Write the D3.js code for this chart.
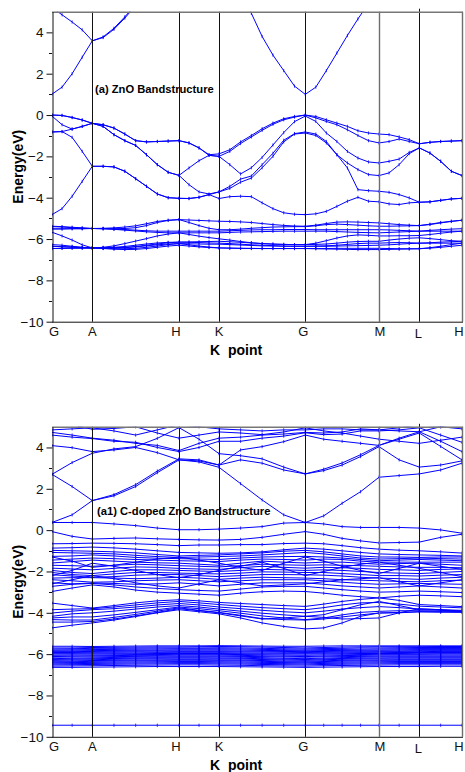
<!DOCTYPE html>
<html>
<head>
<meta charset="utf-8">
<script src="https://cdn.jsdelivr.net/npm/d3@7"></script>
<style>
  body { margin: 0; background: #fff; }
  svg { display: block; font-family: Arial, "Liberation Sans", sans-serif; }
</style>
</head>
<body>
<svg id="chart" width="465" height="772"></svg>
<script>
// k-path: high symmetry points and their positions along the path
const kLabels = ["G", "A", "H", "K", "G", "M", "L", "H"];
const kNodes = [0, 0.403, 1.27, 1.67, 2.533, 3.27, 3.673, 4.10];
// number of k-steps in each segment (top: pure ZnO, bottom: supercell)
const topSteps = [4, 8, 4, 8, 7, 4, 4];
const botSteps = [2, 4, 2, 4, 4, 2, 2];

// ---- (a) ZnO bands, 40 k-points:  G-A | A-H | H-K | K-G | G-M | M-L | L-H
const zno_cb1 = [1.01,1.35,2.0,2.8,3.59, 3.75,4.15,4.69,5.3,5.7,6.0,6.2,6.3, 6.4,6.6,6.8,7.0, 6.6,5.9,4.92,3.8,2.9,2.15,1.40,1.0, 1.35,2.15,3.0,3.85,4.65,5.4,6.0, 6.0,6.0,6.0,6.0, 6.1,6.2,6.3,6.3];
const zno_cb2 = [5.2,4.85,4.5,4.12,3.59, 3.78,4.2,4.75,5.35,5.75,6.05,6.25,6.35, 6.5,6.7,6.9,7.1, 7.0,6.8,6.5,6.2,5.9,5.6,5.4,5.2, 5.3,5.5,5.8,6.1,6.4,6.6,6.8, 6.8,6.8,6.8,6.8, 6.8,6.7,6.6,6.5];
const zno_vb6 = [0.0,-0.02,-0.12,-0.24,-0.40, -0.47,-0.63,-0.92,-1.24,-1.30,-1.28,-1.26,-1.24, -1.35,-1.59,-1.92,-1.88, -1.68,-1.30,-0.99,-0.66,-0.39,-0.18,-0.07,0.0, -0.07,-0.23,-0.39,-0.55,-0.76,-0.87,-0.92, -0.95,-1.06,-1.19,-1.39, -1.32,-1.28,-1.26,-1.24];
const zno_vb5 = [0.0,-0.02,-0.12,-0.24,-0.40, -0.47,-0.63,-0.92,-1.24,-1.30,-1.28,-1.26,-1.24, -1.35,-1.59,-1.95,-2.0, -1.76,-1.38,-1.06,-0.74,-0.45,-0.23,-0.10,0.0, -0.14,-0.31,-0.47,-0.71,-0.99,-1.24,-1.35, -1.28,-1.16,-1.28,-1.39, -1.32,-1.28,-1.26,-1.24];
const zno_vb4 = [-0.05,-0.47,-0.68,-0.55,-0.40, -0.55,-0.95,-1.24,-1.47,-1.92,-2.40,-2.77,-2.92, -2.56,-2.21,-1.95,-2.0, -2.40,-2.85,-2.55,-2.05,-1.45,-0.85,-0.32,-0.05, -0.31,-0.87,-1.28,-1.76,-2.08,-2.27,-2.32, -2.24,-2.13,-1.81,-1.59, -1.84,-2.24,-2.72,-2.93];
const zno_vb3 = [-0.82,-0.80,-0.68,-0.55,-0.40, -0.55,-0.95,-1.24,-1.47,-1.92,-2.40,-2.77,-2.92, -3.37,-3.72,-3.82,-3.72, -3.45,-3.10,-2.95,-2.40,-1.85,-1.22,-0.90,-0.82, -0.92,-1.28,-1.92,-2.32,-2.64,-2.88,-2.93, -2.80,-2.40,-1.87,-1.59, -1.84,-2.24,-2.72,-2.93];
const zno_vb2 = [-0.82,-0.80,-1.08,-1.76,-2.48, -2.48,-2.51,-2.72,-3.08,-3.45,-3.82,-4.00,-4.03, -4.04,-3.98,-3.85,-3.72, -3.55,-3.25,-3.05,-2.55,-2.0,-1.30,-0.92,-0.87, -0.99,-1.35,-1.92,-2.56,-3.61,-3.66,-3.69, -3.74,-3.85,-4.01,-4.22, -4.20,-4.13,-4.06,-4.03];
const zno_vb1 = [-4.82,-4.53,-3.93,-3.21,-2.48, -2.48,-2.51,-2.72,-3.08,-3.45,-3.82,-4.00,-4.03, -4.04,-3.98,-3.85,-4.04, -3.95,-3.93,-3.95,-4.25,-4.53,-4.73,-4.80,-4.82, -4.78,-4.66,-4.42,-4.17,-3.98,-4.17,-4.20, -4.30,-4.33,-4.25,-4.22, -4.20,-4.13,-4.06,-4.03];
// Zn 3d bands
const zno_d10 = [-5.38,-5.40,-5.43,-5.46,-5.49, -5.48,-5.46,-5.42,-5.36,-5.26,-5.15,-5.09,-5.06, -5.08,-5.10,-5.12,-5.14, -5.15,-5.17,-5.20,-5.25,-5.30,-5.34,-5.37,-5.38, -5.33,-5.25,-5.18,-5.17,-5.18,-5.20,-5.22, -5.26,-5.30,-5.33,-5.35, -5.28,-5.20,-5.14,-5.09];
const zno_d9 = [-5.40,-5.42,-5.45,-5.47,-5.49, -5.50,-5.50,-5.49,-5.45,-5.35,-5.20,-5.10,-5.06, -5.20,-5.35,-5.48,-5.55, -5.55,-5.52,-5.48,-5.45,-5.42,-5.41,-5.40,-5.40, -5.36,-5.30,-5.28,-5.30,-5.33,-5.36,-5.38, -5.38,-5.37,-5.36,-5.35, -5.30,-5.22,-5.15,-5.09];
const zno_d8 = [-5.51,-5.51,-5.50,-5.50,-5.49, -5.50,-5.52,-5.54,-5.57,-5.60,-5.62,-5.62,-5.62, -5.62,-5.62,-5.62,-5.62, -5.60,-5.58,-5.56,-5.55,-5.55,-5.54,-5.54,-5.54, -5.55,-5.55,-5.55,-5.55,-5.55,-5.55,-5.55, -5.56,-5.58,-5.60,-5.62, -5.58,-5.55,-5.52,-5.50];
const zno_d7 = [-5.51,-5.51,-5.50,-5.50,-5.49, -5.50,-5.53,-5.57,-5.61,-5.65,-5.68,-5.70,-5.70, -5.70,-5.70,-5.70,-5.70, -5.68,-5.66,-5.65,-5.64,-5.63,-5.62,-5.62,-5.62, -5.62,-5.62,-5.64,-5.66,-5.68,-5.69,-5.70, -5.68,-5.66,-5.64,-5.62, -5.62,-5.62,-5.62,-5.62];
const zno_d6 = [-5.67,-5.85,-6.05,-6.28,-6.43, -6.40,-6.33,-6.22,-6.10,-5.98,-5.85,-5.76,-5.70, -5.78,-5.86,-5.93,-5.99, -6.05,-6.12,-6.18,-6.22,-6.25,-6.26,-6.27,-6.27, -6.20,-6.08,-5.95,-5.85,-5.80,-5.82,-5.85, -5.85,-5.84,-5.84,-5.83, -5.78,-5.72,-5.66,-5.62];
const zno_d5 = [-6.27,-6.30,-6.35,-6.40,-6.43, -6.42,-6.40,-6.36,-6.30,-6.24,-6.19,-6.16,-6.15, -6.14,-6.13,-6.12,-6.11, -6.13,-6.16,-6.19,-6.22,-6.24,-6.26,-6.27,-6.27, -6.26,-6.24,-6.20,-6.15,-6.12,-6.11,-6.11, -6.05,-6.00,-5.96,-5.94, -5.98,-6.03,-6.08,-6.11];
const zno_d4 = [-6.35,-6.37,-6.39,-6.41,-6.43, -6.43,-6.42,-6.40,-6.36,-6.30,-6.24,-6.18,-6.15, -6.16,-6.17,-6.19,-6.20, -6.22,-6.25,-6.28,-6.30,-6.32,-6.34,-6.35,-6.35, -6.34,-6.33,-6.30,-6.26,-6.22,-6.20,-6.20, -6.18,-6.17,-6.18,-6.20, -6.18,-6.15,-6.13,-6.11];
const zno_d3 = [-6.35,-6.37,-6.39,-6.41,-6.43, -6.44,-6.44,-6.42,-6.38,-6.33,-6.28,-6.24,-6.22, -6.23,-6.24,-6.25,-6.25, -6.27,-6.29,-6.31,-6.33,-6.34,-6.35,-6.35,-6.35, -6.35,-6.35,-6.34,-6.33,-6.32,-6.31,-6.30, -6.28,-6.25,-6.22,-6.20, -6.20,-6.20,-6.20,-6.20];
const zno_d2 = [-6.46,-6.45,-6.44,-6.44,-6.43, -6.45,-6.47,-6.47,-6.45,-6.40,-6.34,-6.27,-6.22, -6.28,-6.34,-6.39,-6.43, -6.44,-6.45,-6.45,-6.46,-6.46,-6.46,-6.46,-6.46, -6.46,-6.46,-6.45,-6.45,-6.45,-6.45,-6.45, -6.46,-6.47,-6.47,-6.47, -6.42,-6.35,-6.27,-6.20];
const zno_d1 = [-6.46,-6.45,-6.44,-6.44,-6.43, -6.46,-6.49,-6.51,-6.50,-6.46,-6.40,-6.34,-6.30, -6.34,-6.38,-6.41,-6.43, -6.44,-6.45,-6.46,-6.46,-6.46,-6.46,-6.46,-6.46, -6.47,-6.48,-6.49,-6.50,-6.51,-6.51,-6.51, -6.50,-6.49,-6.48,-6.47, -6.44,-6.40,-6.35,-6.30];

// ---- (a1) C-doped ZnO bands, 21 k-points: G . A . . . H . K . . . G . . . M . L . H
const cz_cb = [
  [0.37,0.74,1.43,1.66,2.11,2.78,3.40,3.30,3.04,2.25,1.46,0.74,0.37,0.69,1.30,1.86,2.56,2.64,2.72,2.91,3.24],
  [2.70,2.11,1.43,1.72,2.20,2.86,3.45,3.40,3.15,3.40,3.24,2.91,2.72,2.88,3.15,3.56,4.04,3.40,3.05,3.15,3.35],
  [2.70,3.27,3.72,3.93,4.04,4.44,4.96,4.40,3.70,3.60,3.45,3.05,2.72,2.95,3.25,3.65,4.10,4.45,4.76,4.30,3.80],
  [4.09,3.99,3.80,3.88,4.00,3.75,3.40,3.35,3.15,3.88,4.04,4.28,4.60,4.40,4.30,4.20,4.10,4.40,4.70,4.05,3.40],
  [4.60,4.50,4.43,4.30,4.25,4.00,3.80,4.00,4.30,4.30,4.45,4.55,4.71,4.62,4.65,4.80,4.80,4.85,4.95,4.60,4.25],
  [4.73,4.60,4.45,4.35,4.20,4.10,3.85,4.20,4.45,4.50,4.60,4.65,4.73,4.70,4.75,4.90,4.85,4.95,5.10,5.00,4.90],
  [4.85,4.90,4.95,4.80,4.60,4.85,5.10,5.00,4.90,4.85,4.80,4.85,4.85,4.90,4.90,4.85,4.85,4.80,4.76,5.00,5.20],
  [5.30,5.10,4.88,4.92,5.00,4.70,4.45,4.60,4.75,4.70,4.62,4.75,4.95,4.80,4.70,4.55,4.40,4.30,4.20,4.35,4.50]
];
const cz_gap = [
  [0.37,0.37,0.37,0.30,0.22,0.10,0.02,0.02,0.05,0.10,0.17,0.34,0.37,0.30,0.17,0.13,0.13,0.13,0.10,0.01,-0.15],
  [-0.07,-0.30,-0.43,-0.40,-0.38,-0.42,-0.45,-0.47,-0.48,-0.45,-0.35,-0.20,-0.07,-0.20,-0.40,-0.52,-0.62,-0.60,-0.58,-0.35,-0.20]
];
const cz_vb = [
  [-0.66,-0.65,-0.63,-0.64,-0.66,-0.70,-0.75,-0.72,-0.72,-0.70,-0.70,-0.65,-0.63,-0.66,-0.75,-0.85,-0.92,-0.97,-1.00,-1.05,-1.11],
  [-0.87,-0.85,-0.82,-0.86,-0.92,-1.00,-1.08,-1.10,-1.12,-1.10,-1.05,-0.95,-0.87,-0.92,-1.00,-1.08,-1.15,-1.18,-1.20,-1.22,-1.25],
  [-0.98,-1.00,-1.02,-1.05,-1.10,-1.18,-1.25,-1.22,-1.20,-1.15,-1.10,-1.02,-0.98,-1.05,-1.15,-1.25,-1.30,-1.30,-1.32,-1.30,-1.30],
  [-1.08,-1.10,-1.12,-1.15,-1.22,-1.28,-1.32,-1.30,-1.28,-1.25,-1.20,-1.14,-1.08,-1.15,-1.25,-1.35,-1.40,-1.38,-1.35,-1.38,-1.40],
  [-1.27,-1.25,-1.20,-1.25,-1.32,-1.36,-1.38,-1.40,-1.42,-1.35,-1.30,-1.28,-1.27,-1.30,-1.35,-1.42,-1.48,-1.45,-1.42,-1.45,-1.48],
  [-1.45,-1.40,-1.35,-1.38,-1.42,-1.45,-1.48,-1.50,-1.52,-1.45,-1.40,-1.42,-1.45,-1.40,-1.42,-1.50,-1.55,-1.55,-1.55,-1.55,-1.55],
  [-1.59,-1.52,-1.45,-1.50,-1.55,-1.58,-1.60,-1.65,-1.70,-1.60,-1.50,-1.55,-1.59,-1.55,-1.55,-1.60,-1.65,-1.62,-1.60,-1.65,-1.70],
  [-1.70,-1.72,-1.75,-1.70,-1.65,-1.68,-1.72,-1.75,-1.78,-1.72,-1.65,-1.68,-1.70,-1.68,-1.70,-1.72,-1.75,-1.78,-1.80,-1.80,-1.82],
  [-1.84,-1.88,-1.92,-1.85,-1.78,-1.80,-1.85,-1.88,-1.90,-1.82,-1.75,-1.80,-1.84,-1.80,-1.82,-1.85,-1.90,-1.92,-1.95,-1.90,-1.88],
  [-1.95,-2.05,-2.10,-2.00,-1.92,-1.92,-1.95,-1.98,-2.00,-1.95,-1.90,-1.92,-1.95,-1.92,-1.95,-2.00,-2.05,-2.08,-2.10,-2.05,-2.00],
  [-2.05,-2.15,-2.20,-2.12,-2.05,-2.05,-2.08,-2.10,-2.12,-2.08,-2.02,-2.03,-2.05,-2.05,-2.10,-2.15,-2.20,-2.20,-2.22,-2.18,-2.15],
  [-2.16,-2.22,-2.28,-2.25,-2.18,-2.15,-2.15,-2.20,-2.25,-2.20,-2.15,-2.15,-2.16,-2.18,-2.22,-2.28,-2.32,-2.35,-2.38,-2.32,-2.28],
  [-2.32,-2.30,-2.30,-2.32,-2.35,-2.32,-2.28,-2.32,-2.38,-2.32,-2.28,-2.30,-2.32,-2.35,-2.40,-2.42,-2.45,-2.48,-2.50,-2.45,-2.42],
  [-2.40,-2.45,-2.52,-2.50,-2.45,-2.42,-2.40,-2.45,-2.50,-2.45,-2.40,-2.40,-2.40,-2.45,-2.52,-2.58,-2.62,-2.60,-2.58,-2.60,-2.62],
  [-2.55,-2.60,-2.56,-2.58,-2.62,-2.60,-2.55,-2.62,-2.70,-2.62,-2.55,-2.55,-2.55,-2.62,-2.70,-2.75,-2.80,-2.75,-2.70,-2.75,-2.80],
  [-2.72,-2.62,-2.58,-2.65,-2.75,-2.82,-2.88,-2.92,-2.95,-2.85,-2.75,-2.72,-2.72,-2.80,-2.88,-2.95,-3.00,-2.98,-2.95,-2.98,-3.02],
  [-2.97,-2.80,-2.65,-2.75,-2.90,-3.00,-3.05,-3.10,-3.15,-3.05,-2.98,-2.95,-2.97,-3.05,-3.15,-3.22,-3.28,-3.20,-3.15,-3.18,-3.22],
  [-1.30,-1.50,-1.80,-1.70,-1.55,-1.40,-1.30,-1.45,-1.60,-1.80,-1.95,-1.60,-1.30,-1.50,-1.75,-1.95,-2.10,-1.85,-1.60,-1.75,-1.90],
  [-2.20,-1.95,-1.60,-1.75,-1.95,-2.15,-2.30,-2.15,-1.95,-1.75,-1.55,-1.85,-2.20,-2.00,-1.80,-1.65,-1.55,-1.70,-1.85,-2.05,-2.25],
  [-2.60,-2.40,-2.20,-2.35,-2.55,-2.70,-2.80,-2.60,-2.40,-2.55,-2.70,-2.65,-2.60,-2.50,-2.40,-2.35,-2.30,-2.50,-2.70,-2.55,-2.40],
  [-3.53,-3.65,-3.77,-3.65,-3.52,-3.42,-3.37,-3.42,-3.50,-3.55,-3.60,-3.65,-3.69,-3.58,-3.45,-3.35,-3.28,-3.40,-3.60,-3.65,-3.70],
  [-3.85,-3.82,-3.80,-3.72,-3.62,-3.52,-3.45,-3.52,-3.60,-3.68,-3.75,-3.80,-3.85,-3.75,-3.62,-3.52,-3.50,-3.58,-3.68,-3.72,-3.76],
  [-4.01,-3.92,-3.85,-3.80,-3.72,-3.62,-3.55,-3.62,-3.72,-3.80,-3.88,-3.95,-4.00,-3.92,-3.82,-3.75,-3.70,-3.75,-3.82,-3.85,-3.88],
  [-4.17,-4.05,-4.00,-3.92,-3.82,-3.72,-3.65,-3.72,-3.82,-3.92,-4.02,-4.10,-4.17,-4.09,-3.85,-3.61,-3.45,-3.65,-3.85,-3.88,-3.92],
  [-4.25,-4.20,-4.20,-4.10,-3.98,-3.85,-3.72,-3.80,-3.90,-4.02,-4.15,-4.25,-4.33,-4.25,-4.10,-3.98,-3.93,-3.90,-3.90,-3.92,-3.93],
  [-4.33,-4.35,-4.35,-4.22,-4.08,-3.92,-3.76,-3.88,-3.98,-4.12,-4.28,-4.33,-4.35,-4.30,-4.20,-4.10,-4.01,-4.00,-3.95,-3.95,-3.95],
  [-4.73,-4.60,-4.49,-4.35,-4.18,-4.00,-3.85,-3.95,-4.05,-4.25,-4.49,-4.66,-4.78,-4.73,-4.49,-4.17,-4.01,-3.98,-3.95,-3.97,-3.98],
  [-4.45,-4.45,-4.42,-4.30,-4.15,-3.98,-3.80,-3.90,-4.00,-4.15,-4.30,-4.25,-4.17,-4.22,-4.30,-4.28,-4.25,-4.00,-3.80,-3.85,-3.92]
];
const cz_d = [
  [-5.62,-5.62,-5.63,-5.62,-5.61,-5.60,-5.60,-5.60,-5.59,-5.60,-5.61,-5.62,-5.62,-5.61,-5.60,-5.60,-5.60,-5.60,-5.60,-5.60,-5.60],
  [-5.70,-5.70,-5.68,-5.67,-5.66,-5.65,-5.65,-5.64,-5.63,-5.64,-5.66,-5.68,-5.70,-5.68,-5.66,-5.65,-5.64,-5.64,-5.64,-5.63,-5.63],
  [-5.75,-5.74,-5.72,-5.72,-5.71,-5.70,-5.70,-5.70,-5.69,-5.70,-5.72,-5.74,-5.75,-5.73,-5.72,-5.70,-5.70,-5.69,-5.68,-5.68,-5.68],
  [-5.80,-5.79,-5.78,-5.77,-5.76,-5.75,-5.74,-5.74,-5.74,-5.75,-5.77,-5.79,-5.80,-5.78,-5.77,-5.76,-5.75,-5.74,-5.73,-5.73,-5.73],
  [-5.84,-5.84,-5.83,-5.82,-5.81,-5.80,-5.79,-5.79,-5.79,-5.80,-5.82,-5.83,-5.84,-5.83,-5.82,-5.81,-5.80,-5.79,-5.78,-5.78,-5.78],
  [-5.88,-5.88,-5.87,-5.86,-5.85,-5.84,-5.84,-5.84,-5.84,-5.85,-5.86,-5.87,-5.88,-5.87,-5.86,-5.85,-5.84,-5.84,-5.83,-5.83,-5.83],
  [-5.92,-5.92,-5.91,-5.90,-5.89,-5.89,-5.88,-5.88,-5.88,-5.89,-5.90,-5.91,-5.92,-5.91,-5.90,-5.89,-5.88,-5.88,-5.88,-5.87,-5.87],
  [-5.96,-5.96,-5.95,-5.94,-5.94,-5.93,-5.93,-5.93,-5.93,-5.94,-5.95,-5.96,-5.96,-5.95,-5.94,-5.93,-5.93,-5.92,-5.92,-5.92,-5.92],
  [-6.00,-6.00,-5.99,-5.98,-5.98,-5.97,-5.97,-5.97,-5.97,-5.98,-5.99,-6.00,-6.00,-5.99,-5.98,-5.97,-5.97,-5.97,-5.96,-5.96,-5.96],
  [-6.06,-6.05,-6.04,-6.03,-6.02,-6.02,-6.01,-6.01,-6.01,-6.02,-6.03,-6.05,-6.06,-6.04,-6.03,-6.02,-6.01,-6.01,-6.01,-6.00,-6.00],
  [-6.12,-6.10,-6.08,-6.07,-6.06,-6.06,-6.05,-6.05,-6.05,-6.06,-6.08,-6.10,-6.12,-6.09,-6.07,-6.06,-6.05,-6.05,-6.05,-6.05,-6.05],
  [-6.15,-6.14,-6.13,-6.12,-6.11,-6.10,-6.10,-6.10,-6.10,-6.11,-6.12,-6.14,-6.15,-6.13,-6.12,-6.11,-6.10,-6.10,-6.10,-6.10,-6.10],
  [-6.22,-6.20,-6.18,-6.16,-6.15,-6.15,-6.14,-6.14,-6.14,-6.15,-6.17,-6.20,-6.22,-6.19,-6.17,-6.15,-6.14,-6.14,-6.14,-6.14,-6.14],
  [-6.26,-6.24,-6.22,-6.21,-6.20,-6.19,-6.18,-6.18,-6.19,-6.20,-6.22,-6.24,-6.26,-6.23,-6.21,-6.20,-6.19,-6.18,-6.18,-6.18,-6.18],
  [-6.30,-6.28,-6.27,-6.25,-6.24,-6.23,-6.23,-6.23,-6.23,-6.24,-6.26,-6.28,-6.30,-6.27,-6.25,-6.24,-6.23,-6.23,-6.23,-6.23,-6.23],
  [-6.34,-6.33,-6.31,-6.30,-6.29,-6.28,-6.27,-6.27,-6.28,-6.29,-6.31,-6.33,-6.34,-6.32,-6.30,-6.29,-6.28,-6.27,-6.27,-6.27,-6.27],
  [-6.38,-6.37,-6.35,-6.34,-6.33,-6.32,-6.32,-6.32,-6.32,-6.33,-6.35,-6.37,-6.38,-6.36,-6.34,-6.33,-6.32,-6.32,-6.32,-6.32,-6.32],
  [-6.42,-6.41,-6.40,-6.39,-6.38,-6.37,-6.36,-6.36,-6.37,-6.38,-6.40,-6.41,-6.42,-6.40,-6.39,-6.38,-6.37,-6.36,-6.36,-6.36,-6.36],
  [-6.47,-6.46,-6.45,-6.44,-6.43,-6.42,-6.41,-6.41,-6.42,-6.43,-6.45,-6.46,-6.47,-6.45,-6.44,-6.43,-6.42,-6.41,-6.41,-6.41,-6.41],
  [-6.52,-6.51,-6.50,-6.49,-6.48,-6.47,-6.46,-6.46,-6.47,-6.48,-6.50,-6.51,-6.52,-6.50,-6.49,-6.48,-6.47,-6.46,-6.46,-6.46,-6.46],
  [-6.58,-6.57,-6.56,-6.55,-6.54,-6.53,-6.52,-6.52,-6.53,-6.54,-6.56,-6.57,-6.58,-6.56,-6.55,-6.54,-6.53,-6.52,-6.52,-6.52,-6.52],
  [-6.64,-6.64,-6.63,-6.62,-6.61,-6.60,-6.60,-6.60,-6.60,-6.61,-6.62,-6.63,-6.64,-6.63,-6.62,-6.61,-6.60,-6.60,-6.60,-6.59,-6.59]
];
const cz_deep = [
  [-9.44,-9.44,-9.44,-9.44,-9.44,-9.44,-9.44,-9.44,-9.44,-9.44,-9.44,-9.44,-9.44,-9.44,-9.44,-9.44,-9.44,-9.44,-9.44,-9.44,-9.44]
];

const yTicks = [-10, -8, -6, -4, -2, 0, 2, 4];
const yMinor = [-9, -7, -5, -3, -1, 1, 3];

const topBands = [zno_cb1, zno_cb2, zno_vb6, zno_vb5, zno_vb4, zno_vb3, zno_vb2, zno_vb1,
  zno_d10, zno_d9, zno_d8, zno_d7, zno_d6, zno_d5, zno_d4, zno_d3, zno_d2, zno_d1];
const botBands = [...cz_cb, ...cz_gap, ...cz_vb, ...cz_d, ...cz_deep];

const svg = d3.select("#chart");
const blue = "#0000ff";

// k grid along the path from the node positions and step counts
function kGrid(steps) {
  const ks = [];
  steps.forEach((n, i) => {
    for (let j = 0; j < n; j++) ks.push(kNodes[i] + (kNodes[i + 1] - kNodes[i]) * j / n);
  });
  ks.push(kNodes[kNodes.length - 1]);
  return ks;
}

function drawPanel(id, top, bands, steps, title, titleX, titleY) {
  const left = 52, right = 462, bottom = top + 310;
  const ks = kGrid(steps);

  const x = d3.scaleLinear().domain([0, 4.10]).range([left, right]);
  const y = d3.scaleLinear().domain([-10, 5]).range([bottom, top]);

  const g = svg.append("g");

  g.append("clipPath").attr("id", id)
    .append("rect").attr("x", left).attr("y", top).attr("width", right - left).attr("height", bottom - top);

  // bands
  const line = d3.line().x((d, i) => x(ks[i])).y(d => y(d));
  const bandG = g.append("g").attr("clip-path", `url(#${id})`);
  bandG.selectAll("path.band")
    .data(bands)
    .enter()
    .append("path")
    .attr("class", "band")
    .attr("d", line)
    .attr("fill", "none")
    .attr("stroke", blue)
    .attr("stroke-width", 1);

  // small markers at every k-point
  bandG.selectAll("g.marks")
    .data(bands)
    .enter()
    .append("g")
    .selectAll("line")
    .data(d => d.map((v, i) => [ks[i], v]))
    .enter()
    .append("line")
    .attr("x1", d => x(d[0])).attr("x2", d => x(d[0]))
    .attr("y1", d => y(d[1]) - 1.6).attr("y2", d => y(d[1]) + 1.6)
    .attr("stroke", blue)
    .attr("stroke-width", 0.8);

  // vertical lines at the high symmetry points
  kNodes.forEach((k, i) => {
    if (i === 0) return;
    const xx = Math.round(x(k)) + 0.5;
    const isGray = (kLabels[i] === "M" || i === kNodes.length - 1);
    g.append("line")
      .attr("x1", xx).attr("x2", xx)
      .attr("y1", kLabels[i] === "L" ? top - 3 : top).attr("y2", bottom)
      .attr("stroke", isGray ? "#6e6e6e" : "#111")
      .attr("stroke-width", isGray ? 1.4 : 1);
  });

  // top border
  g.append("line")
    .attr("x1", left).attr("x2", right + 1)
    .attr("y1", top + 0.5).attr("y2", top + 0.5)
    .attr("stroke", "#777").attr("stroke-width", 1.4);

  // bottom axis line
  g.append("line")
    .attr("x1", left).attr("x2", right + 1)
    .attr("y1", bottom + 0.5).attr("y2", bottom + 0.5)
    .attr("stroke", "#111").attr("stroke-width", 1);

  // left axis
  const yAxis = d3.axisLeft(y).tickValues(yTicks).tickSize(6).tickSizeOuter(0).tickPadding(3);
  const ax = g.append("g").attr("transform", `translate(${left + 0.5},0)`).call(yAxis);
  ax.select(".domain").attr("stroke", "#111");
  ax.selectAll(".tick line").attr("stroke", "#111");
  ax.selectAll(".tick text").attr("font-size", 13.5).attr("fill", "#111")
    .attr("font-family", "Arial, 'Liberation Sans', sans-serif");
  g.append("g").selectAll("line")
    .data(yMinor).enter().append("line")
    .attr("x1", left - 3).attr("x2", left)
    .attr("y1", d => Math.round(y(d)) + 0.5).attr("y2", d => Math.round(y(d)) + 0.5)
    .attr("stroke", "#111");

  // k labels (the last H sits on the right edge)
  const labelShift = [2, 0, -3, 0, -2, 1, -1, -3];
  g.append("g").selectAll("text")
    .data(kLabels).enter().append("text")
    .attr("x", (d, i) => x(kNodes[i]) + labelShift[i])
    .attr("y", (d, i) => bottom + (d === "L" ? 16 : 14))
    .attr("text-anchor", "middle")
    .attr("font-size", 13)
    .attr("fill", "#111")
    .text(d => d);

  // axis titles
  g.append("text")
    .attr("x", 210).attr("y", bottom + 33)
    .attr("font-size", 14).attr("font-weight", "bold")
    .style("white-space", "pre")
    .text("K  point");
  g.append("text")
    .attr("transform", `translate(22.5,${(top + bottom) / 2}) rotate(-90)`)
    .attr("text-anchor", "middle")
    .attr("font-size", 14).attr("font-weight", "bold")
    .text("Energy(eV)");

  // panel caption
  g.append("text")
    .attr("x", titleX).attr("y", titleY)
    .attr("font-size", 11.2).attr("font-weight", "bold")
    .text(title);
}

drawPanel("clipTop", 11.7, topBands, topSteps, "(a) ZnO Bandstructure", 95, 93);
drawPanel("clipBot", 426.8, botBands, botSteps, "(a1) C-doped ZnO Bandstructure", 97, 514.5);
</script>
</body>
</html>
